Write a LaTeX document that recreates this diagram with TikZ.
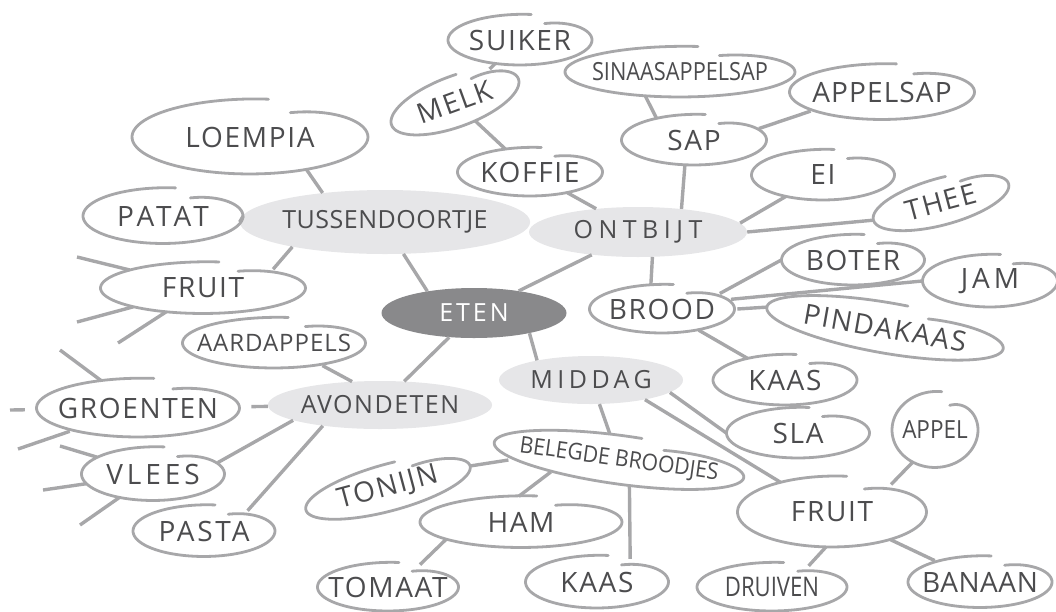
\documentclass[tikz,border=0pt]{standalone}
\usepackage{fontspec}
\setmainfont{Open Sans}[LetterSpace=6]
\usetikzlibrary{shapes.geometric}
\definecolor{linegray}{HTML}{A7A7A9}
\definecolor{textgray}{HTML}{4C4C4E}
\definecolor{bubblegray}{HTML}{E6E6E8}
\definecolor{coregray}{HTML}{89898B}

\newcommand\foodnode[8][]{%
  \node[leaf, sz={#5}{#6}, rotate=#7, #1] (#2) at (#3,#4) {#8};
  \draw[ring, shift={(#2.center)}, rotate=#7] plot[domain=70:-279, samples=80, smooth]
    ({#5/2*cos(\x)}, {-#6/2*(1-0.3*exp(-(70-\x)/30)+0.035*exp(-(\x+279)/40))*sin(\x)});
}

\begin{document}
\begin{tikzpicture}[x=1pt, y=-1pt,
        sz/.style 2 args={minimum width=#1pt, minimum height=#2pt},
        leaf/.style={ellipse, fill=white, text=textgray, inner sep=0pt, font=\fontsize{28}{30}\selectfont},
        ring/.style={draw=linegray, line width=2.8pt, line cap=round},
        fsize/.style={font=\fontsize{#1}{30}\selectfont},
        spaced/.style={execute at begin node=\addfontfeature{LetterSpace=#1}},
        narrow/.style={execute at begin node=\addfontfeature{LetterSpace=0,FakeStretch=#1}},
        topic/.style={ellipse, fill=bubblegray, text=textgray, inner sep=0pt, font=\fontsize{25}{28}\selectfont},
        core/.style={ellipse, fill=coregray, text=white, inner sep=0pt, font=\fontsize{25}{28}\selectfont},
        link/.style={draw=linegray, line width=3.4pt}]
        \useasboundingbox (0,0) rectangle (1056,611);

        \node[core, spaced=12, sz={185}{50}] (eten) at (474,313) {ETEN};

        \node[topic, spaced=2, sz={230}{64}] (tussen) at (385,222) {TUSSENDOORTJE};
        \node[topic, spaced=22, sz={218}{50}] (ontbijt) at (638,232) {ONTBIJT};
        \node[topic, spaced=18, sz={184}{48}] (middag) at (591,380) {MIDDAG};
        \node[topic, sz={184}{48}] (avond) at (380,405) {AVONDETEN};

        \foodnode{loempia}{250}{137}{236}{74}{0}{LOEMPIA}
        \foodnode[spaced=14]{patat}{163}{216}{160}{55}{0}{PATAT}
        \foodnode{fruitL}{203}{288}{205}{51}{0}{FRUIT}
        \foodnode[fsize=24, spaced=4]{aardappels}{274}{343}{183}{50}{0}{AARDAPPELS}
        \foodnode{groenten}{138}{408}{203}{58}{0}{GROENTEN}
        \foodnode[spaced=14]{vlees}{153}{474}{143}{53}{0}{VLEES}
        \foodnode[spaced=10]{pasta}{204}{531}{142}{51}{0}{PASTA}

        \foodnode{suiker}{520}{40}{144}{50}{0}{SUIKER}
        \foodnode{melk}{455}{102}{135}{50}{20}{MELK}
        \foodnode{koffie}{530}{172}{145}{48}{0}{KOFFIE}
        \foodnode[fsize=25, narrow=0.87]{sinaas}{680}{72}{230}{50}{0}{SINAASAPPELSAP}
        \foodnode{sap}{694}{140}{145}{50}{0}{SAP}
        \foodnode[spaced=4]{appelsap}{882}{92}{185}{55}{0}{APPELSAP}
        \foodnode{ei}{823}{175}{143}{50}{0}{EI}
        \foodnode{thee}{941}{202}{140}{46}{15}{THEE}
        \foodnode{brood}{662}{309}{145}{48}{0}{BROOD}
        \foodnode{boter}{853}{260}{143}{50}{0}{BOTER}
        \foodnode[spaced=14]{jam}{990}{281}{135}{52}{0}{JAM}
        \foodnode{pinda}{885}{328}{240}{50}{-10}{PINDAKAAS}
        \foodnode{kaasR}{785}{380}{144}{50}{0}{KAAS}

        \foodnode[fsize=23, narrow=0.92]{belegd}{619}{460}{252}{48}{-8}{BELEGDE BROODJES}
        \foodnode{tonijn}{388}{488}{170}{46}{15}{TONIJN}
        \foodnode{ham}{521}{522}{202}{51}{0}{HAM}
        \foodnode{tomaat}{388}{587}{141}{48}{0}{TOMAAT}
        \foodnode{kaasB}{597}{582}{143}{52}{0}{KAAS}
        \foodnode{sla}{798}{433}{143}{50}{0}{SLA}
        \foodnode[fsize=25, narrow=0.9]{appel}{935}{430}{86}{75}{0}{APPEL}
        \foodnode{fruitR}{832}{512}{189}{70}{0}{FRUIT}
        \foodnode[fsize=27, narrow=0.82]{druiven}{772}{587}{150}{48}{0}{DRUIVEN}
        \foodnode[spaced=2]{banaan}{980}{582}{144}{51}{0}{BANAAN}

        \coordinate (fl1) at (77,257);
        \coordinate (fl2) at (77,322);
        \coordinate (fl3) at (118,343);
        \coordinate (gr1) at (60,350);
        \coordinate (gr2) at (10,410);
        \coordinate (gr3) at (18,449);
        \coordinate (vl1) at (60,446);
        \coordinate (vl2) at (43,490);
        \coordinate (vl3) at (80,525);

        \draw[link] (tussen.-60) -- (eten.155);
        \draw[link] (eten) -- (ontbijt);
        \draw[link] (eten.-20) -- (middag.160);
        \draw[link] (eten) -- (avond);

        \draw[link] (loempia.-30) -- (tussen.155);
        \draw[link] (patat.east) -- (tussen.west);
        \draw[link] (fruitL.15) -- (tussen.-165);
        \draw[link] (fruitL) -- (fl1);
        \draw[link] (fruitL) -- (fl2);
        \draw[link] (fruitL) -- (fl3);

        \draw[link] (aardappels.-25) -- (avond.140);
        \draw[link] (groenten) -- (avond);
        \draw[link] (vlees.10) -- (avond.-170);
        \draw[link] (pasta.25) -- (avond.-160);
        \draw[link] (groenten) -- (gr1);
        \draw[link] (groenten) -- (gr2);
        \draw[link] (groenten) -- (gr3);
        \draw[link] (vlees) -- (vl1);
        \draw[link] (vlees) -- (vl2);
        \draw[link] (vlees) -- (vl3);

        \draw[link] (ontbijt) -- (koffie);
        \draw[link] (koffie) -- (melk);
        \draw[link] (melk) -- (suiker);
        \draw[link] (sap.-110) -- (ontbijt.28);
        \draw[link] (sinaas.-145) -- (sap.150);
        \draw[link] (sap.10) -- (appelsap.-165);
        \draw[link] (ontbijt.5) -- (ei.-150);
        \draw[link] (ontbijt.east) -- (thee.west);
        \draw[link] (ontbijt.-60) -- (brood.115);
        \draw[link] (brood.15) -- (boter.west);
        \draw[link] (brood.8) -- (jam.west);
        \draw[link] (brood.east) -- (pinda.west);
        \draw[link] (brood) -- (kaasR);

        \draw[link] (middag) -- (belegd);
        \draw[link] (middag.-9) -- (sla.west);
        \draw[link] (middag.-20) -- (fruitR.150);
        \draw[link] (tonijn.east) -- (belegd.-172);
        \draw[link] (ham.95) -- (belegd.-162);
        \draw[link] (kaasB.35) -- (belegd.-60);
        \draw[link] (ham.-167) -- (tomaat.35);
        \draw[link] (fruitR.25) -- (appel.-125);
        \draw[link] (fruitR.-100) -- (druiven.30);
        \draw[link] (fruitR) -- (banaan);
    \end{tikzpicture}
\end{document}
